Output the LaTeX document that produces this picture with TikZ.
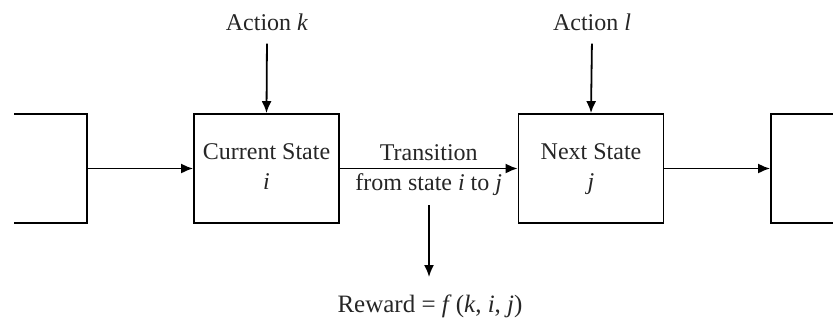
\documentclass[tikz,border=0pt]{standalone}
\usepackage{fontspec}
\setmainfont{Liberation Serif}
\usetikzlibrary{arrows.meta}
\begin{document}
\begin{tikzpicture}[x=0.5pt,y=-0.5pt,
  every node/.style={font=\fontsize{12}{15}\selectfont, text=black!85},
  statebox/.style={draw, line width=0.9pt, minimum width=72.5pt, minimum height=54.5pt, align=center, inner sep=0pt},
  conn/.style={line width=0.9pt, -{Latex[length=6pt,width=5pt]}}]
\useasboundingbox (0,0) rectangle (833,323);
\fill[white] (0,0) rectangle (833,323);
\begin{scope}
\clip (14,0) rectangle (833,323);
% partial boxes
\node[statebox] (prev) at (14.5,168.5) {};
\node[statebox] (after) at (843.5,168.5) {};
\end{scope}
\node[statebox] (cur) at (266.5,168.5) {\strut Current State\\\textit{i}\strut};
\node[statebox] (next) at (591,168.5) {\strut Next State\\\textit{j}\strut};
\node (ak) at (267,22) {Action \textit{k}};
\node (al) at (592,22) {Action \textit{l}};
\node (reward) at (430,306) {\fontsize{12.5}{15}\selectfont Reward = \textit{f}\,(\textit{k}, \textit{i}, \textit{j})};
\draw[conn] (prev.east) -- (cur.west);
\draw[conn] (cur.east) -- node[above=0pt] (tr1) {Transition} node[below=-1pt] (tr2) {from state \textit{i} to \textit{j}} (next.west);
\draw[conn] (next.east) -- (after.west);
\draw[conn, shorten <=3pt] (ak.south) -- (cur.north);
\draw[conn, shorten <=3pt] (al.south) -- (next.north);
\coordinate (rstart) at (429,205);
\coordinate (rend) at (429,277);
\draw[conn] (rstart) -- (rend);
\end{tikzpicture}
\end{document}
